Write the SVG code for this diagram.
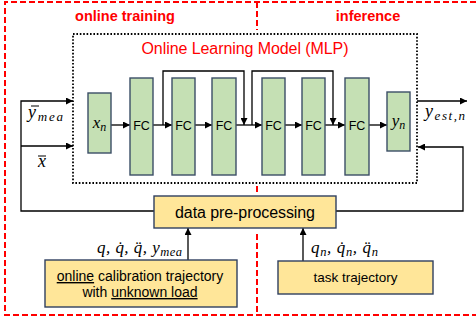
<svg xmlns="http://www.w3.org/2000/svg" width="476" height="326" viewBox="0 0 476 326">
<defs>
<marker id="ah" viewBox="0 0 10 10" refX="10" refY="5" markerWidth="7" markerHeight="7" markerUnits="userSpaceOnUse" orient="auto">
<path d="M0,0 L10,5 L0,10 z" fill="#000"/>
</marker>
<style>
.red{fill:none;stroke:#FF0000;stroke-width:2;stroke-dasharray:6 3}
.dot{fill:none;stroke:#000;stroke-width:1.8;stroke-dasharray:1.6 1.8}
.g{fill:#C5E0B4;stroke:#3B4E66;stroke-width:1.4}
.yb{fill:#FFE699;stroke:#2F3F5F;stroke-width:1.4}
.c{fill:none;stroke:#000;stroke-width:1.3}
.ca{fill:none;stroke:#000;stroke-width:1.3;marker-end:url(#ah)}
.t{font-family:"Liberation Sans",Arial,sans-serif;fill:#000}
.m{font-family:"Liberation Serif","DejaVu Serif",serif;font-style:italic;fill:#000}
.rt{font-family:"Liberation Sans",Arial,sans-serif;fill:#FF0000}
</style>
</defs>
<rect width="476" height="326" fill="#fff"/>
<g id="regions">
<path class="red" d="M476,2 L5,2 L5,315 L476,315"/>
<path class="red" d="M257,2 L257,30"/>
<path class="red" d="M257,186 L257,193"/>
<path class="red" d="M257,234 L257,315"/>
<text class="rt" x="125" y="21" font-size="14.5" font-weight="bold" text-anchor="middle">online training</text>
<text class="rt" x="368" y="21" font-size="14.5" font-weight="bold" text-anchor="middle">inference</text>
</g>
<g id="mlp">
<rect class="dot" x="73" y="34" width="344" height="149"/>
<text class="rt" x="245" y="54" font-size="16" text-anchor="middle" textLength="207">Online Learning Model (MLP)</text>
</g>
<g id="connectors">
<path class="ca" d="M111,125 L130,125"/>
<path class="ca" d="M153,125 L172,125"/>
<path class="ca" d="M195,125 L212,125"/>
<path class="ca" d="M236,125 L262,125"/>
<path class="ca" d="M285,125 L302,125"/>
<path class="ca" d="M325,125 L345,125"/>
<path class="ca" d="M369,125 L387,125"/>
<path class="ca" d="M163,125 L163,71 L244,71 L244,125"/>
<path class="ca" d="M252,125 L252,71 L333,71 L333,125"/>
<path class="ca" d="M154,211 L21,211 L21,101 L73,101"/>
<path class="ca" d="M21,146 L73,146"/>
<path class="ca" d="M417,101 L467,101"/>
<path class="ca" d="M336,211 L463,211 L463,147 L418,147"/>
<path class="ca" d="M188,260 L188,228"/>
<path class="ca" d="M303,261 L303,228"/>
</g>
<g id="xn">
<rect class="g" x="88" y="93" width="23" height="60"/>
<text class="m" x="99.5" y="128" font-size="17" text-anchor="middle">x<tspan font-size="12" dy="3">n</tspan></text>
</g>
<g id="fc1"><rect class="g" x="130" y="78" width="23" height="97"/><text class="t" x="141.5" y="130" font-size="12.5" text-anchor="middle">FC</text></g>
<g id="fc2"><rect class="g" x="172" y="78" width="23" height="97"/><text class="t" x="183.5" y="130" font-size="12.5" text-anchor="middle">FC</text></g>
<g id="fc3"><rect class="g" x="212" y="78" width="24" height="97"/><text class="t" x="224" y="130" font-size="12.5" text-anchor="middle">FC</text></g>
<g id="fc4"><rect class="g" x="262" y="78" width="23" height="97"/><text class="t" x="273.5" y="130" font-size="12.5" text-anchor="middle">FC</text></g>
<g id="fc5"><rect class="g" x="302" y="78" width="23" height="97"/><text class="t" x="313.5" y="130" font-size="12.5" text-anchor="middle">FC</text></g>
<g id="fc6"><rect class="g" x="345" y="78" width="24" height="97"/><text class="t" x="357" y="130" font-size="12.5" text-anchor="middle">FC</text></g>
<g id="yn">
<rect class="g" x="387" y="92" width="23" height="59"/>
<text class="m" x="398.5" y="126" font-size="17" text-anchor="middle">y<tspan font-size="12" dy="3">n</tspan></text>
</g>
<g id="labels">
<line x1="31" y1="106" x2="39" y2="106" stroke="#000" stroke-width="1"/>
<text class="m" x="28" y="118" font-size="18" textLength="35">y<tspan font-size="13" dy="3">mea</tspan></text>
<line x1="38" y1="156" x2="46" y2="156" stroke="#000" stroke-width="1"/>
<text class="m" x="38" y="167" font-size="18">x</text>
<text class="m" x="425" y="117" font-size="18" textLength="40">y<tspan font-size="13" dy="3">est,n</tspan></text>
<text class="m" x="97" y="253" font-size="17" textLength="85">q, q̇, q̈, y<tspan font-size="12.5" dy="3">mea</tspan></text>
<text class="m" x="311" y="253" font-size="17" textLength="67">q<tspan font-size="12.5" dy="3">n</tspan><tspan dy="-3">, q̇</tspan><tspan font-size="12.5" dy="3">n</tspan><tspan dy="-3">, q̈</tspan><tspan font-size="12.5" dy="3">n</tspan></text>
</g>
<g id="preprocessing">
<rect class="yb" x="154" y="196" width="182" height="32"/>
<text class="t" x="245" y="218" font-size="16" text-anchor="middle" textLength="140">data pre-processing</text>
</g>
<g id="calibration">
<rect class="yb" x="45" y="260" width="192" height="47"/>
<text class="t" x="140" y="281" font-size="14" text-anchor="middle"><tspan text-decoration="underline">online</tspan> calibration trajectory</text>
<text class="t" x="140" y="297" font-size="14" text-anchor="middle">with <tspan text-decoration="underline">unknown load</tspan></text>
</g>
<g id="task">
<rect class="yb" x="278" y="261" width="155" height="33"/>
<text class="t" x="355.5" y="282" font-size="13.5" text-anchor="middle">task trajectory</text>
</g>
</svg>
